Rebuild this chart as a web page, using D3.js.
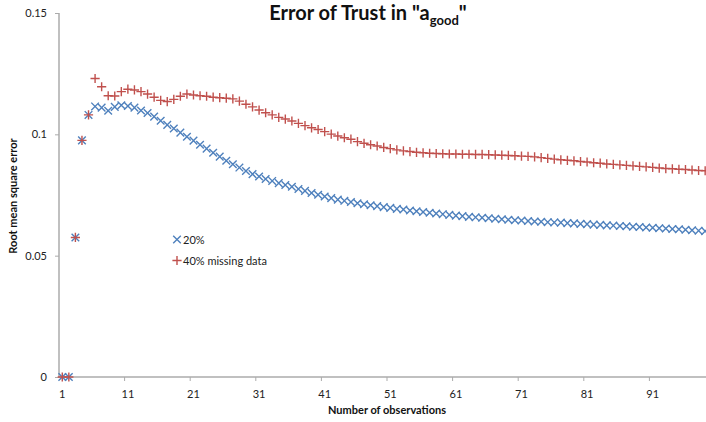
<!DOCTYPE html>
<html>
<head>
<meta charset="utf-8">
<script src="https://cdn.jsdelivr.net/npm/d3@7"></script>
<style>
  html, body { margin: 0; padding: 0; background: #fff; }
  svg { display: block; font-family: Lato, "Open Sans", sans-serif; }
</style>
</head>
<body>
<svg id="chart" width="706" height="422"></svg>
<script>
const categories = d3.range(1, 100);
const seriesNames = ["20%", "40% missing data"];
const series20 = [
  0, 0, 0.0575, 0.0975, 0.108, 0.1115, 0.111, 0.1097, 0.1113, 0.112,
  0.1117, 0.111, 0.1098, 0.1088, 0.1073, 0.1056, 0.1039, 0.1024, 0.1007, 0.099,
  0.0974, 0.0957, 0.0941, 0.0924, 0.0908, 0.0891, 0.0877, 0.0863, 0.0849, 0.0836,
  0.0826, 0.0816, 0.0808, 0.0799, 0.0791, 0.0784, 0.0775, 0.0767, 0.0758, 0.0751,
  0.0744, 0.0737, 0.0731, 0.0726, 0.0721, 0.0716, 0.0712, 0.0708, 0.0704, 0.07,
  0.0697, 0.0693, 0.069, 0.0686, 0.0683, 0.068, 0.0677, 0.0674, 0.0671, 0.0668,
  0.0665, 0.0663, 0.066, 0.0658, 0.0656, 0.0654, 0.0652, 0.065, 0.0648, 0.0646,
  0.0645, 0.0643, 0.0641, 0.064, 0.0638, 0.0637, 0.0636, 0.0634, 0.0633, 0.0631,
  0.063, 0.0628, 0.0627, 0.0625, 0.0624, 0.0622, 0.0621, 0.0619, 0.0618, 0.0616,
  0.0615, 0.0613, 0.0612, 0.061, 0.0609, 0.0607, 0.0605, 0.0603, 0.0601
];
const series40 = [
  0, 0, 0.0575, 0.0975, 0.108, 0.123, 0.1196, 0.1159, 0.1158, 0.1176,
  0.1186, 0.1183, 0.1176, 0.1166, 0.1153, 0.114, 0.1135, 0.1144, 0.1157, 0.1166,
  0.1162, 0.1159, 0.1157, 0.1153, 0.1151, 0.1149, 0.1146, 0.1137, 0.1124, 0.1113,
  0.11, 0.1089, 0.108, 0.107, 0.1063, 0.1055, 0.1045, 0.1036, 0.1027, 0.102,
  0.1011, 0.1001, 0.0993, 0.0986, 0.098, 0.097, 0.0963, 0.0957, 0.0952, 0.0946,
  0.0941, 0.0936, 0.0932, 0.0929, 0.0926, 0.0924, 0.0922, 0.0921, 0.092, 0.0919,
  0.0919, 0.0918, 0.0918, 0.0917, 0.0917, 0.0916, 0.0915, 0.0914, 0.0913, 0.0912,
  0.091, 0.0909, 0.0907, 0.0904, 0.0901, 0.0898, 0.0895, 0.0893, 0.0891, 0.0888,
  0.0886, 0.0883, 0.0881, 0.0878, 0.0876, 0.0874, 0.0872, 0.087, 0.0868, 0.0866,
  0.0864, 0.0861, 0.0859, 0.0858, 0.0856, 0.0855, 0.0853, 0.0851, 0.085
];
const xTickLabels = [1, 11, 21, 31, 41, 51, 61, 71, 81, 91];
const yTickValues = [0, 0.05, 0.1, 0.15];
const yTickLabels = ["0", "0.05", "0.1", "0.15"];

const svg = d3.select("#chart");
const mLeft = 59, mTop = 13, mBottom = 377, step = 6.56;
const x = d3.scaleBand().domain(categories).range([mLeft, mLeft + categories.length * step]).padding(0);
const y = d3.scaleLinear().domain([0, 0.15]).range([mBottom, mTop]);
const cx = c => x(c) + x.bandwidth() / 2;
const axisColor = "#ababab";

// Y axis
const yAxis = svg.append("g").attr("transform", `translate(${mLeft},0)`)
  .call(d3.axisLeft(y).tickValues(yTickValues).tickSize(4).tickPadding(8)
    .tickFormat((d, i) => yTickLabels[i]));
yAxis.select(".domain").attr("stroke", axisColor).attr("stroke-width", 1.5).attr("d", `M0,${mTop}V${mBottom}`);
yAxis.selectAll(".tick line").attr("stroke", axisColor).attr("stroke-width", 1);
yAxis.selectAll(".tick text").attr("fill", "#222").style("font-size", "11px").style("font-family", "Lato, sans-serif");

// X axis
const xAxis = svg.append("g").attr("transform", `translate(0,${mBottom})`)
  .call(d3.axisBottom(x).tickValues(xTickLabels).tickSize(0).tickPadding(13));
xAxis.select(".domain").attr("stroke", axisColor).attr("stroke-width", 1.5)
  .attr("d", `M${mLeft},0H706`);
xAxis.selectAll(".tick text").attr("fill", "#222").style("font-size", "11px").style("font-family", "Lato, sans-serif");
xAxis.selectAll(".boundTick").data(categories.filter(c => c % 10 === 0))
  .enter().append("line").attr("class", "boundTick")
  .attr("x1", c => x(c) + x.bandwidth()).attr("x2", c => x(c) + x.bandwidth())
  .attr("y1", 0).attr("y2", 4).attr("stroke", axisColor).attr("stroke-width", 1);

// Markers
const blue = "#4F81BD", red = "#C0504D";
function drawX(g, px, py, r) {
  g.append("path").attr("d", `M${px - r},${py - r}L${px + r},${py + r}M${px - r},${py + r}L${px + r},${py - r}`)
    .attr("stroke", blue).attr("stroke-width", 1.4).attr("fill", "none");
}
function drawPlus(g, px, py, r) {
  g.append("path").attr("d", `M${px - r},${py}H${px + r}M${px},${py - r}V${py + r}`)
    .attr("stroke", red).attr("stroke-width", 1.4).attr("fill", "none");
}
const gB = svg.append("g");
series20.forEach((v, i) => drawX(gB, cx(categories[i]), y(v), 3.8));
const gR = svg.append("g");
series40.forEach((v, i) => drawPlus(gR, cx(categories[i]), y(v), 4.6));

// Legend
const lg = svg.append("g");
drawX(lg, 177, 239.5, 3.8);
drawPlus(lg, 177, 260.5, 4.6);
lg.append("text").attr("x", 183).attr("y", 243.5).text(seriesNames[0])
  .style("font-size", "11px").attr("fill", "#222");
lg.append("text").attr("x", 183).attr("y", 264.5).text(seriesNames[1])
  .style("font-size", "11px").attr("fill", "#222");

// Title
const title = svg.append("text").attr("x", 368).attr("y", 20).attr("text-anchor", "middle")
  .style("font-size", "20px").style("font-weight", "bold").attr("fill", "#111");
title.append("tspan").text('Error of Trust in "a');
title.append("tspan").text("good").attr("dy", 5).style("font-size", "13px");
title.append("tspan").text('"').attr("dy", -5);

// Axis titles
svg.append("text").attr("x", 387).attr("y", 414).attr("text-anchor", "middle")
  .style("font-size", "11px").style("font-weight", "bold").attr("fill", "#111")
  .text("Number of observations");
svg.append("text").attr("transform", "translate(17,196) rotate(-90)").attr("text-anchor", "middle")
  .style("font-size", "11px").style("font-weight", "bold").attr("fill", "#111")
  .text("Root mean square error");
</script>
</body>
</html>
